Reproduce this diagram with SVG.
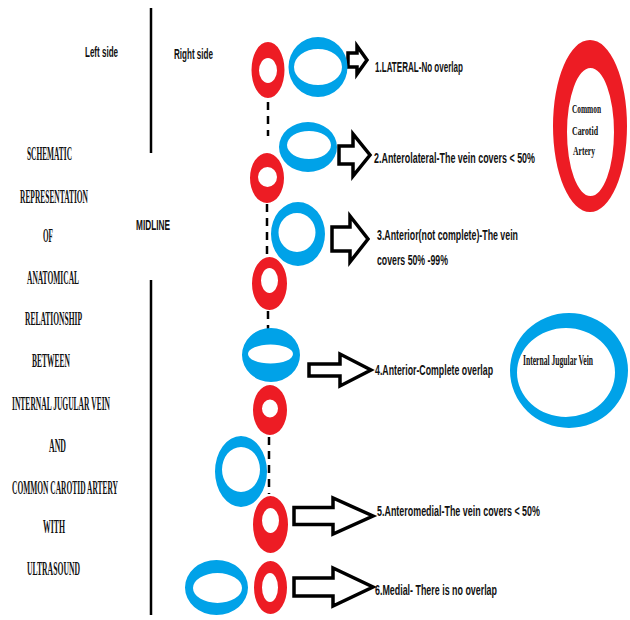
<svg xmlns="http://www.w3.org/2000/svg" width="630" height="620" viewBox="0 0 630 620">
<style>
.red{fill:#ED1C24;fill-rule:evenodd}
.blue{fill:#00A2E8;fill-rule:evenodd}
.sans{font-family:"Liberation Sans Narrow","Liberation Sans",Arial,sans-serif;font-weight:bold;font-size:15px;fill:#111}
.serif{font-family:"Liberation Serif","Times New Roman",serif;font-weight:bold;fill:#111}
.title{font-size:18px}
.arrow{fill:#fff;stroke:#000;stroke-width:3.5;stroke-linejoin:miter}
.dash{stroke:#000;stroke-width:2.5;stroke-dasharray:8 6;fill:none}
.mid{stroke:#000;stroke-width:2.5}
</style>
<g id="midline-axis">
<line class="mid" x1="151" y1="8" x2="151" y2="153"/>
<line class="mid" x1="151" y1="280" x2="151" y2="615"/>
</g>
<g id="side-labels">
<text class="sans" x="85" y="57" textLength="33" lengthAdjust="spacingAndGlyphs">Left side</text>
<text class="sans" x="174" y="59" textLength="39" lengthAdjust="spacingAndGlyphs">Right side</text>
<text class="sans" x="136" y="230" textLength="34" lengthAdjust="spacingAndGlyphs">MIDLINE</text>
</g>
<g id="title" class="serif title">
<text x="27" y="160" textLength="45" lengthAdjust="spacingAndGlyphs">SCHEMATIC</text>
<text x="20" y="203" textLength="68" lengthAdjust="spacingAndGlyphs">REPRESENTATION</text>
<text x="43" y="242" textLength="10" lengthAdjust="spacingAndGlyphs">OF</text>
<text x="27" y="284" textLength="52" lengthAdjust="spacingAndGlyphs">ANATOMICAL</text>
<text x="25" y="325" textLength="57" lengthAdjust="spacingAndGlyphs">RELATIONSHIP</text>
<text x="32" y="367" textLength="38" lengthAdjust="spacingAndGlyphs">BETWEEN</text>
<text x="12" y="410" textLength="98" lengthAdjust="spacingAndGlyphs">INTERNAL JUGULAR VEIN</text>
<text x="49" y="452" textLength="17" lengthAdjust="spacingAndGlyphs">AND</text>
<text x="12" y="494" textLength="106" lengthAdjust="spacingAndGlyphs">COMMON CAROTID ARTERY</text>
<text x="43" y="533" textLength="22" lengthAdjust="spacingAndGlyphs">WITH</text>
<text x="27" y="575" textLength="53" lengthAdjust="spacingAndGlyphs">ULTRASOUND</text>
</g>
<g id="connectors">
<line class="dash" x1="268" y1="102" x2="268" y2="136"/>
<line class="dash" x1="267" y1="204" x2="267" y2="256"/>
<line class="dash" x1="268" y1="311" x2="268" y2="331"/>
<line class="dash" x1="269" y1="437" x2="269" y2="494"/>
<polygon class="arrow" points="348,53 357,53 357,46 367,60 357,74 357,67 348,67"/>
<polygon class="arrow" points="339,146 353,146 353,134 370,155 353,176 353,164 339,164"/>
<polygon class="arrow" points="332,227 350,227 350,216 368,239 350,262 350,251 332,251"/>
<polygon class="arrow" points="309,364 340,364 340,354 371,370 340,386 340,376 309,376"/>
<polygon class="arrow" points="294,507.5 333,507.5 333,498 373,516 333,534 333,524.5 294,524.5"/>
<polygon class="arrow" points="294,578 333,578 333,568 373,587 333,606 333,596 294,596"/>
</g>
<g id="row1">
<path class="red" d="M251.5 70a16.5 28 0 1 0 33 0a16.5 28 0 1 0 -33 0ZM259 70.5a9 12.5 0 1 0 18 0a9 12.5 0 1 0 -18 0Z"/>
<path class="blue" d="M288.5 67a29.5 30 0 1 0 59 0a29.5 30 0 1 0 -59 0ZM294 67a24 18 0 1 0 48 0a24 18 0 1 0 -48 0Z"/>
</g>
<g id="row2">
<path class="blue" d="M279 147a29 25 0 1 0 58 0a29 25 0 1 0 -58 0ZM287 145a22 14 0 1 0 44 0a22 14 0 1 0 -44 0Z"/>
<path class="red" d="M250 178a17 25 0 1 0 34 0a17 25 0 1 0 -34 0ZM258 177a9.5 10 0 1 0 19 0a9.5 10 0 1 0 -19 0Z"/>
</g>
<g id="row3">
<path class="blue" d="M271 234a27 32 0 1 0 54 0a27 32 0 1 0 -54 0ZM278.5 232.5a18.5 19.5 0 1 0 37 0a18.5 19.5 0 1 0 -37 0Z"/>
<path class="red" d="M252 283.5a17.5 26.5 0 1 0 35 0a17.5 26.5 0 1 0 -35 0ZM261 280.5a8.5 12.5 0 1 0 17 0a8.5 12.5 0 1 0 -17 0Z"/>
</g>
<g id="row4">
<path class="blue" d="M242 355a29 27 0 1 0 58 0a29 27 0 1 0 -58 0ZM248 354a22.5 9.5 0 1 0 45 0a22.5 9.5 0 1 0 -45 0Z"/>
<path class="red" d="M253 410a17 25 0 1 0 34 0a17 25 0 1 0 -34 0ZM262 408.5a8 9 0 1 0 16 0a8 9 0 1 0 -16 0Z"/>
</g>
<g id="row5">
<path class="blue" d="M215 471.5a26 35.5 0 1 0 52 0a26 35.5 0 1 0 -52 0ZM222 469.5a19 22.5 0 1 0 38 0a19 22.5 0 1 0 -38 0Z"/>
<path class="red" d="M253 524.5a17.5 28.5 0 1 0 35 0a17.5 28.5 0 1 0 -35 0ZM262 520.5a8.5 12.5 0 1 0 17 0a8.5 12.5 0 1 0 -17 0Z"/>
</g>
<g id="row6">
<path class="blue" d="M185 587.5a31.5 27.5 0 1 0 63 0a31.5 27.5 0 1 0 -63 0ZM193 588a24.5 15 0 1 0 49 0a24.5 15 0 1 0 -49 0Z"/>
<path class="red" d="M254 587.5a16.5 26.5 0 1 0 33 0a16.5 26.5 0 1 0 -33 0ZM262 587.5a8 14.5 0 1 0 16 0a8 14.5 0 1 0 -16 0Z"/>
</g>
<g id="label1"><text class="sans" x="375" y="72" textLength="88" lengthAdjust="spacingAndGlyphs">1.LATERAL-No overlap</text></g>
<g id="label2"><text class="sans" x="374" y="163" textLength="161" lengthAdjust="spacingAndGlyphs">2.Anterolateral-The vein covers &lt; 50%</text></g>
<g id="label3">
<text class="sans" x="377" y="240" textLength="141" lengthAdjust="spacingAndGlyphs">3.Anterior(not complete)-The vein</text>
<text class="sans" x="377" y="265" textLength="71" lengthAdjust="spacingAndGlyphs">covers 50% -99%</text>
</g>
<g id="label4"><text class="sans" x="375" y="375" textLength="118" lengthAdjust="spacingAndGlyphs">4.Anterior-Complete overlap</text></g>
<g id="label5"><text class="sans" x="377" y="516" textLength="163" lengthAdjust="spacingAndGlyphs">5.Anteromedial-The vein covers &lt; 50%</text></g>
<g id="label6"><text class="sans" x="375" y="595" textLength="122" lengthAdjust="spacingAndGlyphs">6.Medial- There is no overlap</text></g>
<g id="legend-cca">
<path class="red" d="M553 126a37 86 0 1 0 74 0a37 86 0 1 0 -74 0ZM567 132a23.5 64 0 1 0 47 0a23.5 64 0 1 0 -47 0Z"/>
<g class="serif" font-size="13">
<text x="572" y="113" textLength="29" lengthAdjust="spacingAndGlyphs">Common</text>
<text x="572" y="135" textLength="26" lengthAdjust="spacingAndGlyphs">Carotid</text>
<text x="573" y="155" textLength="22" lengthAdjust="spacingAndGlyphs">Artery</text>
</g>
</g>
<g id="legend-ijv">
<path class="blue" d="M510 370.5a59 57.5 0 1 0 118 0a59 57.5 0 1 0 -118 0ZM517 372.5a49 44.5 0 1 0 98 0a49 44.5 0 1 0 -98 0Z"/>
<text class="serif" font-size="14" x="523" y="365" textLength="70" lengthAdjust="spacingAndGlyphs">Internal Jugular Vein</text>
</g>
</svg>
